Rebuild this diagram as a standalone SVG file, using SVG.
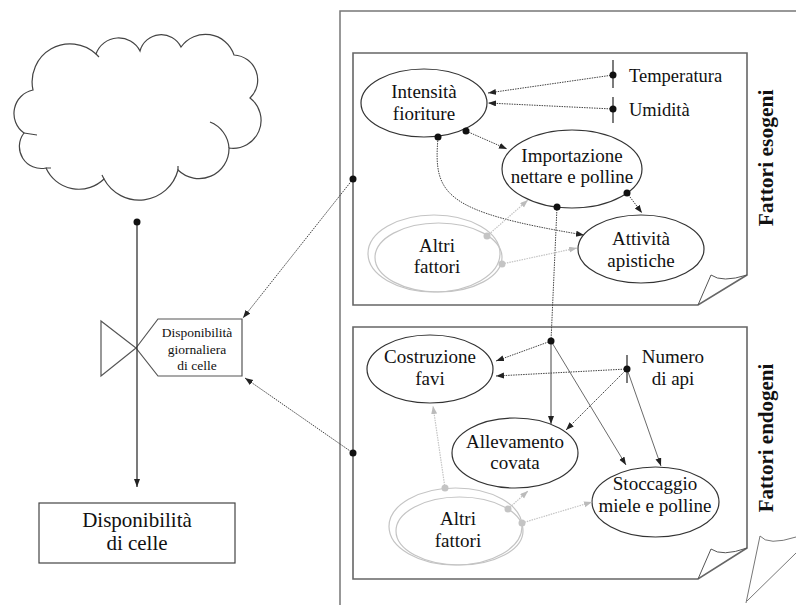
<svg xmlns="http://www.w3.org/2000/svg" width="796" height="605" viewBox="0 0 796 605" font-family="'Liberation Serif', 'DejaVu Serif', serif">
<defs>
<marker id="ah" markerUnits="userSpaceOnUse" markerWidth="9" markerHeight="7" refX="8" refY="3" orient="auto"><path d="M0,0 L8,3 L0,6 z" fill="#222"/></marker>
<marker id="ahg" markerUnits="userSpaceOnUse" markerWidth="9" markerHeight="7" refX="8" refY="3" orient="auto"><path d="M0,0 L8,3 L0,6 z" fill="#bbb"/></marker>
<style>
text{font-family:'Liberation Serif','DejaVu Serif',serif;fill:#111;text-anchor:middle}
.n{font-size:19px}
.node{fill:#fff;stroke:#333;stroke-width:1.2}
.gnode{fill:none;stroke:#c4c4c4;stroke-width:1.2}
.panel{fill:#fff;stroke:#666;stroke-width:1.6}
.line{fill:none;stroke:#777;stroke-width:1.5}
.dc{fill:none;stroke:#444;stroke-width:1;stroke-dasharray:1.5 1;marker-end:url(#ah)}
.sc{fill:none;stroke:#444;stroke-width:1;marker-end:url(#ah)}
.gc{fill:none;stroke:#c4c4c4;stroke-width:1.2;stroke-dasharray:1.5 1;marker-end:url(#ahg)}
.dot{fill:#111}
.gdot{fill:#c4c4c4}
.tick{stroke:#444;stroke-width:1.4}
.side{font-size:21.5px;font-weight:bold}
</style>
</defs>
<rect width="796" height="605" fill="#fff"/>

<g id="outer-page">
<path class="line" d="M340,605 L340,11 L796,11"/>
<path class="line" style="stroke-width:1" d="M746,603 L760,536 Q768,546 796,537 M747,601 L796,553"/>
</g>

<g id="panel-esogeni">
<path class="panel" d="M353,53 L747,53 L747,275 L698,305 L353,305 Z"/>
<path fill="none" stroke="#555" stroke-width="1" d="M698,305 L711,275 Q722,283 747,275"/>
<text class="side" transform="translate(773,158) rotate(-90)">Fattori esogeni</text>
</g>

<g id="panel-endogeni">
<path class="panel" d="M353,327 L747,327 L747,548 L698,579 L353,579 Z"/>
<path fill="none" stroke="#555" stroke-width="1" d="M698,579 L711,549 Q722,557 747,548"/>
<text class="side" transform="translate(773,438) rotate(-90)" style="font-size:21px">Fattori endogeni</text>
</g>

<g id="cloud">
<path fill="#fff" stroke="#444" stroke-width="1.2" d="M33,90 A38,38 0 0 1 96,54 A24,24 0 0 1 140,51 A22,22 0 0 1 181,47 A30,30 0 0 1 234,55 A25,25 0 0 1 250,98 A28,28 0 0 1 229,148 A30,30 0 0 1 178,170 A40,40 0 0 1 104,179 A36,36 0 0 1 46,168 A22,22 0 0 1 24,133 A24,24 0 0 1 33,90 Z"/>
<path fill="none" stroke="#444" stroke-width="1.2" d="M210,122 A30,30 0 0 1 229,148 M24,133 L37,135 M46,168 L51,168 M96,54 L99,57 M178,170 L178,166 M104,179 L102,175"/>
</g>

<g id="valvola">
<polygon points="101,321 136,348 101,376" fill="#fff" stroke="#555" stroke-width="1.2"/>
<polygon points="136,348 158,319 242,319 242,376 158,376" fill="#fff" stroke="#555" stroke-width="1.2"/>
<text style="font-size:13.5px" x="197" y="337">Disponibilità</text>
<text style="font-size:13.5px" x="197" y="354">giornaliera</text>
<text style="font-size:13.5px" x="197" y="370">di celle</text>
</g>

<g id="disponibilita-celle">
<rect x="39" y="503" width="196" height="60" fill="#fff" stroke="#444" stroke-width="1.2"/>
<text style="font-size:21px" x="137" y="527">Disponibilità</text>
<text style="font-size:21px" x="137" y="550">di celle</text>
</g>

<g id="intensita-fioriture">
<ellipse class="node" cx="424" cy="103" rx="63" ry="34"/>
<text class="n" x="424" y="98">Intensità</text>
<text class="n" x="424" y="120">fioriture</text>
</g>

<g id="importazione">
<ellipse class="node" cx="572" cy="169" rx="70" ry="39"/>
<text class="n" x="572" y="162">Importazione</text>
<text class="n" x="572" y="183">nettare e polline</text>
</g>

<g id="attivita-apistiche">
<ellipse class="node" cx="641" cy="249" rx="63" ry="34"/>
<text class="n" x="641" y="245">Attività</text>
<text class="n" x="641" y="267">apistiche</text>
</g>

<g id="altri-fattori-eso">
<ellipse class="gnode" cx="434" cy="253.5" rx="66" ry="38.5"/>
<ellipse class="gnode" cx="438.5" cy="257.5" rx="63.5" ry="34.5"/>
<text class="n" x="437" y="252">Altri</text>
<text class="n" x="437" y="273">fattori</text>
</g>

<g id="temperatura">
<line class="tick" x1="613" y1="60" x2="613" y2="88"/>
<text class="n" x="629" y="82" style="text-anchor:start;font-size:18.5px">Temperatura</text>
</g>

<g id="umidita">
<line class="tick" x1="613" y1="97" x2="613" y2="123"/>
<text class="n" x="629" y="116" style="text-anchor:start;font-size:18.5px">Umidità</text>
</g>

<g id="costruzione-favi">
<ellipse class="node" cx="430" cy="369" rx="63" ry="34"/>
<text class="n" x="430" y="363">Costruzione</text>
<text class="n" x="430" y="385">favi</text>
</g>

<g id="allevamento-covata">
<ellipse class="node" cx="515" cy="453" rx="63" ry="35"/>
<text class="n" x="515" y="448">Allevamento</text>
<text class="n" x="515" y="469">covata</text>
</g>

<g id="stoccaggio">
<ellipse class="node" cx="655.5" cy="502" rx="63.5" ry="35"/>
<text class="n" x="655" y="490">Stoccaggio</text>
<text class="n" x="655" y="512">miele e polline</text>
</g>

<g id="altri-fattori-endo">
<ellipse class="gnode" cx="455.5" cy="526.5" rx="66.5" ry="38.5"/>
<ellipse class="gnode" cx="459.5" cy="531" rx="63.5" ry="34"/>
<text class="n" x="458" y="525">Altri</text>
<text class="n" x="458" y="547">fattori</text>
</g>

<g id="numero-api">
<line class="tick" x1="627" y1="355" x2="627" y2="383"/>
<text class="n" x="673" y="363">Numero</text>
<text class="n" x="673" y="385">di api</text>
</g>

<g id="connectors">
<path class="sc" d="M137,222 L137,487" style="stroke:#333;stroke-width:1.3"/>
<path class="dc" d="M353,179 L243,318"/>
<path class="dc" d="M353,453 L245,378"/>
<path class="dc" d="M613,75 L488,93"/>
<path class="dc" d="M613,109 L488,103"/>
<path class="dc" d="M466,131 L507,149"/>
<path class="dc" d="M438,138 C433,195 445,212 584,235"/>
<path class="dc" d="M627,193 L642,213"/>
<path class="dc" d="M557,207 L551,341" style="marker-end:none"/>
<path class="gc" d="M487,236 L528,200"/>
<path class="gc" d="M502,264 L577,248"/>
<path class="dc" d="M551,341 L496,361"/>
<path class="sc" d="M551,341 L551,424"/>
<path class="sc" d="M551,341 L626,465" style="stroke-width:0.8"/>
<path class="dc" d="M627,369 L496,376"/>
<path class="dc" d="M627,369 L566,430"/>
<path class="sc" d="M627,369 L661,466" style="stroke-width:0.8"/>
<path class="gc" d="M445,488 L433,406"/>
<path class="gc" d="M508,509 L528,491"/>
<path class="gc" d="M522,523 L592,502"/>
<circle class="dot" cx="137" cy="222" r="3.5"/>
<circle class="dot" cx="353" cy="179" r="3.5"/>
<circle class="dot" cx="353" cy="453" r="3.5"/>
<circle class="dot" cx="613" cy="75" r="3.5"/>
<circle class="dot" cx="613" cy="109" r="3.5"/>
<circle class="dot" cx="466" cy="131" r="3.5"/>
<circle class="dot" cx="438" cy="137" r="3.5"/>
<circle class="dot" cx="627" cy="193" r="3.5"/>
<circle class="dot" cx="557" cy="207" r="3.5"/>
<circle class="dot" cx="551" cy="341" r="3.5"/>
<circle class="dot" cx="627" cy="369" r="3.5"/>
<circle class="gdot" cx="487" cy="236" r="3.5"/>
<circle class="gdot" cx="502" cy="264" r="3.5"/>
<circle class="gdot" cx="445" cy="488" r="3.5"/>
<circle class="gdot" cx="508" cy="509" r="3.5"/>
<circle class="gdot" cx="522" cy="523" r="3.5"/>
</g>
</svg>
